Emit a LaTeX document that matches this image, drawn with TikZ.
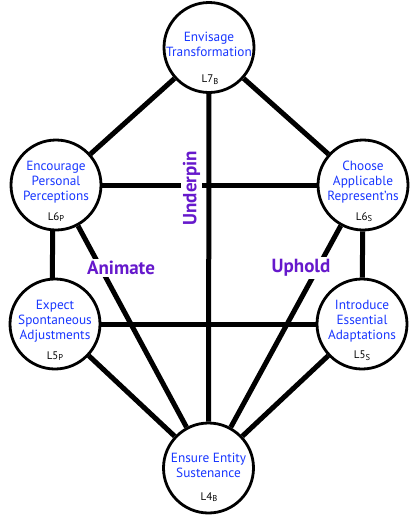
\documentclass[tikz,border=0pt]{standalone}
\usepackage{fontspec}
\setmainfont{PT Sans}
\usetikzlibrary{backgrounds}
\definecolor{txtblue}{RGB}{25,55,255}
\definecolor{lblpurple}{RGB}{102,25,204}
\newcommand{\lvlsub}[2]{#1\raisebox{-0.3ex}{\fontsize{8.5}{9}\selectfont #2}}
\begin{document}
\begin{tikzpicture}[x=1pt,y=-1pt,
  circ/.style={circle,draw,line width=2.8pt,fill=white,minimum size=90pt,inner sep=0pt},
  ttl/.style={text=txtblue,font=\fontsize{13.3}{15}\selectfont,align=center,inner sep=0pt},
  lvl/.style={font=\fontsize{11}{12}\selectfont,inner sep=0pt},
  edge/.style={line width=5pt},
  rel/.style={text=lblpurple,font=\bfseries\fontsize{19}{20}\selectfont,fill=white,inner sep=2pt}]
\useasboundingbox (0,0) rectangle (418,517);
% circles
\node[circ] (L7) at (209,47.5) {};
\node[circ] (L6P) at (56,185) {};
\node[circ] (L6S) at (363,185) {};
\node[circ] (L5P) at (55,324) {};
\node[circ] (L5S) at (362,324) {};
\node[circ] (L4) at (208.5,468) {};
% titles
\node[ttl] (t7) at (209,44) {Envisage\\Transformation};
\node[ttl] (t6p) at (56,182) {Encourage\\Personal\\Perceptions};
\node[ttl] (t6s) at (363,182) {Choose\\Applicable\\Represent'ns};
\node[ttl] (t5p) at (55,321) {Expect\\Spontaneous\\Adjustments};
\node[ttl] (t5s) at (362,321) {Introduce\\Essential\\Adaptations};
\node[ttl] (t4) at (208.5,465) {Ensure Entity\\Sustenance};
% level labels
\node[lvl] (l7) at (210,79.5) {\lvlsub{L7}{B}};
\node[lvl] (l6p) at (56,217) {\lvlsub{L6}{P}};
\node[lvl] (l6s) at (364,217) {\lvlsub{L6}{S}};
\node[lvl] (l5p) at (55,356) {\lvlsub{L5}{P}};
\node[lvl] (l5s) at (362,356) {\lvlsub{L5}{S}};
\node[lvl] (l4) at (209,497) {\lvlsub{L4}{B}};
% edges
\begin{scope}[on background layer]
\draw[edge] (L7) -- (L6P);
\draw[edge] (L7) -- (L6S);
\draw[edge] (L7) -- (L4);
\draw[edge] (L6P) -- (L6S);
\draw[edge] ([xshift=-3pt]L6P.center) -- ([xshift=-3pt]L5P.center);
\draw[edge] (L6S) -- (L5S);
\draw[edge] (L5P) -- (L5S);
\draw[edge] (L5P) -- (L4);
\draw[edge] (L6P) -- (L4);
\draw[edge] (L6S) -- (L4);
\draw[edge] (L5S) -- (L4);
\end{scope}
% relation labels
\node[rel,rotate=90,inner xsep=2pt,inner ysep=2pt] (up) at (191.5,188) {Underpin};
\node[rel] (an) at (121,268) {Animate};
\node[rel] (uh) at (301,268) {Uphold};
\end{tikzpicture}
\end{document}
